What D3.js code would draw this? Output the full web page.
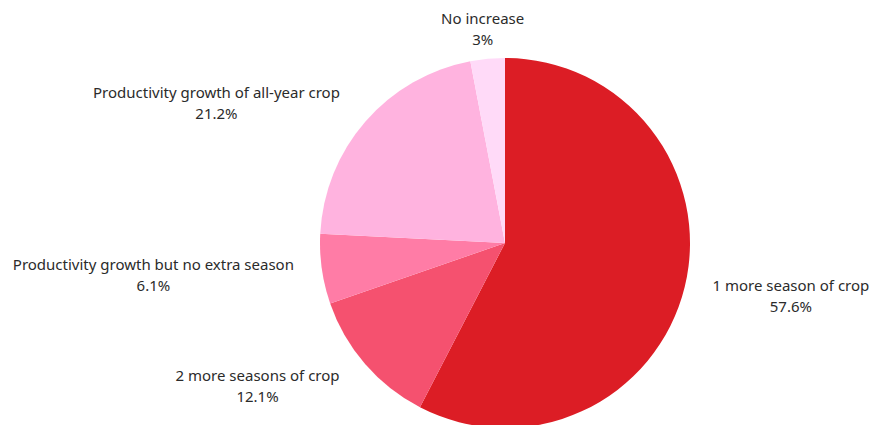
<!DOCTYPE html>
<html>
<head>
<meta charset="utf-8">
<script src="https://cdn.jsdelivr.net/npm/d3@7"></script>
<style>
  html, body { margin: 0; padding: 0; background: #fff; }
  svg { display: block; }
  text { font-family: "Noto Sans", "Open Sans", sans-serif; font-size: 15px; fill: #2b2b2b; }
</style>
</head>
<body>
<svg id="chart" width="871" height="425"></svg>
<script>
// Answers, clockwise from 12 o'clock
const categories = [
  "1 more season of crop",
  "2 more seasons of crop",
  "Productivity growth but no extra season",
  "Productivity growth of all-year crop",
  "No increase"
];
const shares = [57.6, 12.1, 6.1, 21.2, 3];
const valueLabels = ["57.6%", "12.1%", "6.1%", "21.2%", "3%"];
const colors = ["#dc1d25", "#f5516f", "#ff7ca6", "#ffb3df", "#ffdaf8"];

const W = 871, H = 425;
const cx = 505, cy = 243, radius = 185;

const svg = d3.select("#chart");
const g = svg.append("g").attr("transform", `translate(${cx},${cy})`);

const rows = categories.map((c, i) => ({ name: c, value: shares[i], label: valueLabels[i], color: colors[i] }));

const pie = d3.pie().value(d => d.value).sort(null);
const arc = d3.arc().innerRadius(0).outerRadius(radius);
const arcs = pie(rows);

g.selectAll("path.slice")
  .data(arcs)
  .join("path")
  .attr("class", "slice")
  .attr("d", arc)
  .attr("fill", d => d.data.color);

// Two-line centred label blocks placed just outside each slice's mid angle
const labelR = radius + 10, gap = 18, lineH = 21;
arcs.forEach(a => {
  const mid = (a.startAngle + a.endAngle) / 2;
  const s = Math.sin(mid), c = Math.cos(mid);
  const px = labelR * s, py = -labelR * c;
  const yc = py - c * lineH + 2;
  const t = g.append("text").attr("text-anchor", "middle");
  const l1 = t.append("tspan").attr("y", yc - lineH / 2 + 5).text(a.data.name);
  const l2 = t.append("tspan").attr("y", yc + lineH / 2 + 5).text(a.data.label);
  const w = Math.max(l1.node().getComputedTextLength(), l2.node().getComputedTextLength());
  let xc = px - 4;
  if (s > 0.3) xc = px + gap + w / 2;
  else if (s < -0.3) xc = px - gap - w / 2;
  l1.attr("x", xc);
  l2.attr("x", xc);
});
</script>
</body>
</html>
